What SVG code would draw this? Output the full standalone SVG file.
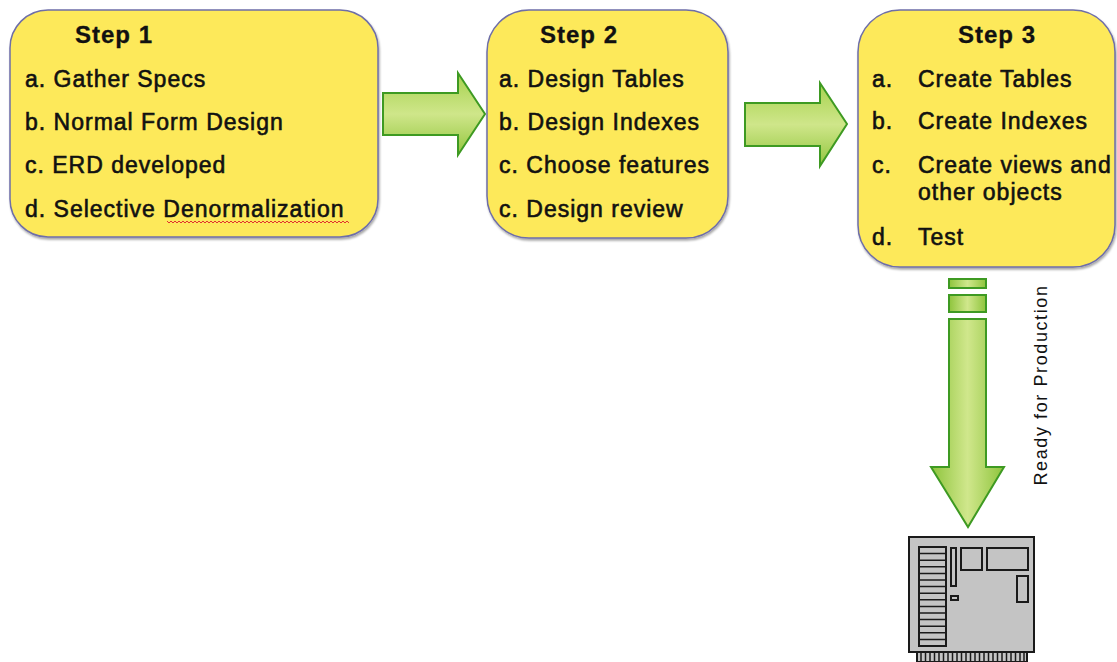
<svg xmlns="http://www.w3.org/2000/svg" width="1117" height="662" viewBox="0 0 1117 662">
<style>
.box{fill:#FDE95A;stroke:#6E6EA8;stroke-width:1.5;filter:url(#sh)}
.hd{font-family:"Liberation Sans",Arial,sans-serif;font-size:24px;font-weight:bold;letter-spacing:1px;fill:#111;stroke:#111;stroke-width:0.3}
.it{font-family:"Liberation Sans",Arial,sans-serif;font-size:23px;letter-spacing:1px;fill:#111;stroke:#111;stroke-width:0.6}
.lbl{font-family:"Liberation Sans",Arial,sans-serif;font-size:18px;letter-spacing:1.6px;fill:#111}
.arrh{fill:url(#gv);stroke:#3E9A22;stroke-width:2;stroke-linejoin:miter}
.arrv{fill:url(#gh);stroke:#3E9A22;stroke-width:2}
.srv{fill:#C4C4C4;stroke:#1a1a1a;stroke-width:2}
.srvl{stroke:#1a1a1a;stroke-width:1.5;fill:none}
</style>
<defs>
<filter id="sh" x="-5%" y="-5%" width="110%" height="115%">
<feDropShadow dx="1" dy="2" stdDeviation="1.2" flood-color="#000" flood-opacity="0.35"/>
</filter>
<linearGradient id="gv" x1="0" y1="0" x2="0" y2="1">
<stop offset="0" stop-color="#A6D24E"/>
<stop offset="0.5" stop-color="#CFE68A"/>
<stop offset="1" stop-color="#92C63E"/>
</linearGradient>
<linearGradient id="gh" x1="0" y1="0" x2="1" y2="0">
<stop offset="0" stop-color="#8EC43C"/>
<stop offset="0.5" stop-color="#D0E78C"/>
<stop offset="1" stop-color="#8EC43C"/>
</linearGradient>
</defs>
<rect width="1117" height="662" fill="#fff"/>

<g id="connectors">
<path class="arrh" d="M383,93 H458 V73 L485,114 L458,155 V135 H383 Z"/>
<path class="arrh" d="M745,103 H820 V83 L847,124 L820,166 V146 H745 Z"/>
<rect class="arrv" x="949" y="279" width="37" height="9"/>
<rect class="arrv" x="949" y="295" width="37" height="17"/>
<path class="arrv" d="M949,319 H986 V467 H1004 L968,527 L931,467 H949 Z"/>
<text class="lbl" transform="translate(1047,385) rotate(-90)" text-anchor="middle">Ready for Production</text>
</g>

<g id="step1">
<rect class="box" x="10" y="10" width="368" height="227" rx="38" ry="38"/>
<text class="hd" x="75" y="43">Step 1</text>
<text class="it" x="25" y="87">a. Gather Specs</text>
<text class="it" x="25" y="130">b. Normal Form Design</text>
<text class="it" x="25" y="173">c. ERD developed</text>
<text class="it" x="25" y="217">d. Selective Denormalization</text>
<path d="M167,221 l2,2 l2,-2 l2,2 l2,-2 l2,2 l2,-2 l2,2 l2,-2 l2,2 l2,-2 l2,2 l2,-2 l2,2 l2,-2 l2,2 l2,-2 l2,2 l2,-2 l2,2 l2,-2 l2,2 l2,-2 l2,2 l2,-2 l2,2 l2,-2 l2,2 l2,-2 l2,2 l2,-2 l2,2 l2,-2 l2,2 l2,-2 l2,2 l2,-2 l2,2 l2,-2 l2,2 l2,-2 l2,2 l2,-2 l2,2 l2,-2 l2,2 l2,-2 l2,2 l2,-2 l2,2 l2,-2 l2,2 l2,-2 l2,2 l2,-2 l2,2 l2,-2 l2,2 l2,-2 l2,2 l2,-2 l2,2 l2,-2 l2,2 l2,-2 l2,2 l2,-2 l2,2 l2,-2 l2,2 l2,-2 l2,2 l2,-2 l2,2 l2,-2 l2,2 l2,-2 l2,2 l2,-2 l2,2 l2,-2 l2,2 l2,-2 l2,2 l2,-2 l2,2 l2,-2 l2,2 l2,-2 l2,2 l2,-2 l2,2" fill="none" stroke="#E03030" stroke-width="1"/>
</g>

<g id="step2">
<rect class="box" x="487" y="10" width="241" height="228" rx="42" ry="42"/>
<text class="hd" x="540" y="43">Step 2</text>
<text class="it" x="499" y="87">a. Design Tables</text>
<text class="it" x="499" y="130">b. Design Indexes</text>
<text class="it" x="499" y="173">c. Choose features</text>
<text class="it" x="499" y="217">c. Design review</text>
</g>

<g id="step3">
<rect class="box" x="858" y="10" width="257" height="257" rx="42" ry="42"/>
<text class="hd" x="958" y="43">Step 3</text>
<text class="it" x="872" y="87">a.</text><text class="it" x="918" y="87">Create Tables</text>
<text class="it" x="872" y="129">b.</text><text class="it" x="918" y="129">Create Indexes</text>
<text class="it" x="872" y="173">c.</text><text class="it" x="918" y="173">Create views and</text>
<text class="it" x="918" y="200">other objects</text>
<text class="it" x="872" y="245">d.</text><text class="it" x="918" y="245">Test</text>
</g>

<g id="server">
<rect class="srv" x="917" y="651" width="110" height="11"/>
<path class="srvl" d="M921,652 V662 M925.5,652 V662 M930,652 V662 M934.5,652 V662 M939,652 V662 M943.5,652 V662 M948,652 V662 M952.5,652 V662 M957,652 V662 M961.5,652 V662 M966,652 V662 M970.5,652 V662 M975,652 V662 M979.5,652 V662 M984,652 V662 M988.5,652 V662 M993,652 V662 M997.5,652 V662 M1002,652 V662 M1006.5,652 V662 M1011,652 V662 M1015.5,652 V662 M1020,652 V662 M1024,652 V662"/>
<rect class="srv" x="909" y="537" width="125" height="115"/>
<rect class="srv" x="919" y="547" width="27" height="99"/>
<path class="srvl" d="M919,553.6 H946 M919,560.2 H946 M919,566.8 H946 M919,573.4 H946 M919,580 H946 M919,586.6 H946 M919,593.2 H946 M919,599.8 H946 M919,606.4 H946 M919,613 H946 M919,619.6 H946 M919,626.2 H946 M919,632.8 H946 M919,639.4 H946"/>
<rect class="srv" x="951" y="548" width="5" height="38"/>
<rect class="srv" x="951" y="596" width="7" height="4"/>
<rect class="srv" x="961" y="548" width="21" height="22"/>
<rect class="srv" x="987" y="548" width="41" height="22"/>
<rect class="srv" x="1017" y="576" width="11" height="26"/>
</g>
</svg>
